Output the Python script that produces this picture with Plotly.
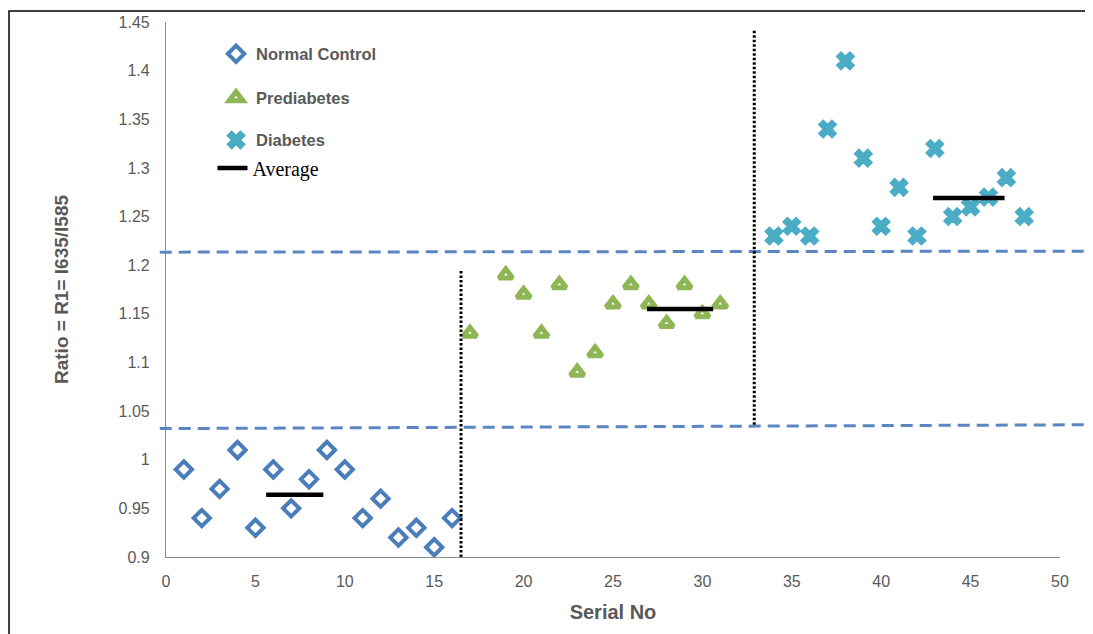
import plotly.graph_objects as go

# ---- data ----
normal_x = list(range(1, 17))
normal_y = [0.99, 0.94, 0.97, 1.01, 0.93, 0.99, 0.95, 0.98, 1.01, 0.99, 0.94, 0.96, 0.92, 0.93, 0.91, 0.94]

pre_x = [17, 19, 20, 21, 22, 23, 24, 25, 26, 27, 28, 29, 30, 31]
pre_y = [1.13, 1.19, 1.17, 1.13, 1.18, 1.09, 1.11, 1.16, 1.18, 1.16, 1.14, 1.18, 1.15, 1.16]

dia_x = list(range(34, 49))
dia_y = [1.23, 1.24, 1.23, 1.34, 1.41, 1.31, 1.24, 1.28, 1.23, 1.32, 1.25, 1.26, 1.27, 1.29, 1.25]

avg_x0 = [5.6, 26.9, 42.9]
avg_x1 = [8.8, 30.6, 46.9]
avg_y = [0.964, 1.155, 1.269]

# group boundaries (thresholds and separators)
thr_y = [(1.2134, 1.2144), (1.032, 1.036)]
sep_x = [16.5, 32.9]
sep_y = [(0.9, 1.195), (1.036, 1.442)]

grey = "#595959"
tickfont = dict(family="Liberation Sans Narrow, Arial Narrow, Liberation Sans, sans-serif", size=16, color=grey)
legfont = dict(family="Liberation Sans, Arial, sans-serif", size=16.5, color=grey)

fig = go.Figure()

fig.add_trace(go.Scatter(
    x=normal_x, y=normal_y, mode="markers", name="<b>Normal Control</b>",
    marker=dict(symbol="diamond-open", size=12.5, color="#4a7ebb", line=dict(width=4, color="#4a7ebb")),
    legend="legend"))
fig.add_trace(go.Scatter(
    x=pre_x, y=pre_y, mode="markers", name="<b>Prediabetes</b>",
    marker=dict(symbol="triangle-up-open", size=12, color="#8fb655", line=dict(width=5, color="#8fb655")),
    legend="legend2"))
fig.add_trace(go.Scatter(
    x=dia_x, y=dia_y, mode="markers", name="<b>Diabetes</b>",
    marker=dict(symbol="x", size=15.5, color="#4bacc6", line=dict(width=1.5, color="#4bacc6")),
    legend="legend3"))

for i in range(len(avg_y)):
    fig.add_trace(go.Scatter(
        x=[avg_x0[i], avg_x1[i]], y=[avg_y[i], avg_y[i]], mode="lines",
        line=dict(color="black", width=4.5), name="Average",
        showlegend=(i == 0), legend="legend4"))

shapes = []
for (ya, yb) in thr_y:
    shapes.append(dict(type="line", xref="paper", yref="y", x0=-0.007, x1=1.04, y0=ya, y1=yb,
                       line=dict(color="#5b86bf", width=3, dash="12px,7px")))
for xs, (ya, yb) in zip(sep_x, sep_y):
    shapes.append(dict(type="line", xref="x", yref="y", x0=xs, x1=xs, y0=ya, y1=yb,
                       line=dict(color="black", width=3, dash="2.5px,2px")))
# outer frame
shapes.append(dict(type="rect", xref="paper", yref="paper", x0=-0.1756, x1=1.2, y0=-0.3, y1=1.0206,
                   line=dict(color="black", width=1.5), fillcolor="rgba(0,0,0,0)", layer="below"))

fig.update_layout(
    width=1085, height=626,
    margin=dict(l=158, r=33, t=14, b=77, autoexpand=False),
    paper_bgcolor="white", plot_bgcolor="white",
    shapes=shapes,
    showlegend=True,
    xaxis=dict(range=[0, 50], tick0=0, dtick=5, showgrid=False, zeroline=False, automargin=False,
               showline=True, linecolor="#8c8c8c", linewidth=1.2,
               ticks="outside", ticklen=10, tickcolor="rgba(0,0,0,0)", tickfont=tickfont,
               title=dict(text="<b>Serial No</b>", font=dict(family="Liberation Sans, Arial, sans-serif", size=20, color=grey), standoff=15)),
    yaxis=dict(range=[0.9, 1.45], tick0=0.9, dtick=0.05, showgrid=False, zeroline=False, automargin=False,
               showline=True, linecolor="#8c8c8c", linewidth=1.2,
               ticks="outside", ticklen=12, tickcolor="rgba(0,0,0,0)", tickfont=tickfont,
               tickvals=[0.9, 0.95, 1.0, 1.05, 1.1, 1.15, 1.2, 1.25, 1.3, 1.35, 1.4, 1.45],
               ticktext=["0.9", "0.95", "1", "1.05", "1.1", "1.15", "1.2", "1.25", "1.3", "1.35", "1.4", "1.45"],
               title=dict(text="<b>Ratio = R1= I635/I585</b>", font=dict(family="Liberation Sans, Arial, sans-serif", size=19, color=grey), standoff=44)),
    legend=dict(x=0.056, y=0.940, xanchor="left", yanchor="middle", bgcolor="rgba(0,0,0,0)", font=legfont, itemwidth=30),
    legend2=dict(x=0.056, y=0.858, xanchor="left", yanchor="middle", bgcolor="rgba(0,0,0,0)", font=legfont, itemwidth=30),
    legend3=dict(x=0.056, y=0.779, xanchor="left", yanchor="middle", bgcolor="rgba(0,0,0,0)", font=legfont, itemwidth=30),
    legend4=dict(x=0.052, y=0.727, xanchor="left", yanchor="middle", bgcolor="rgba(0,0,0,0)",
                 font=dict(family="Liberation Serif, Times New Roman, serif", size=20, color="black"), itemwidth=30),
)

fig.write_html("out.html")
